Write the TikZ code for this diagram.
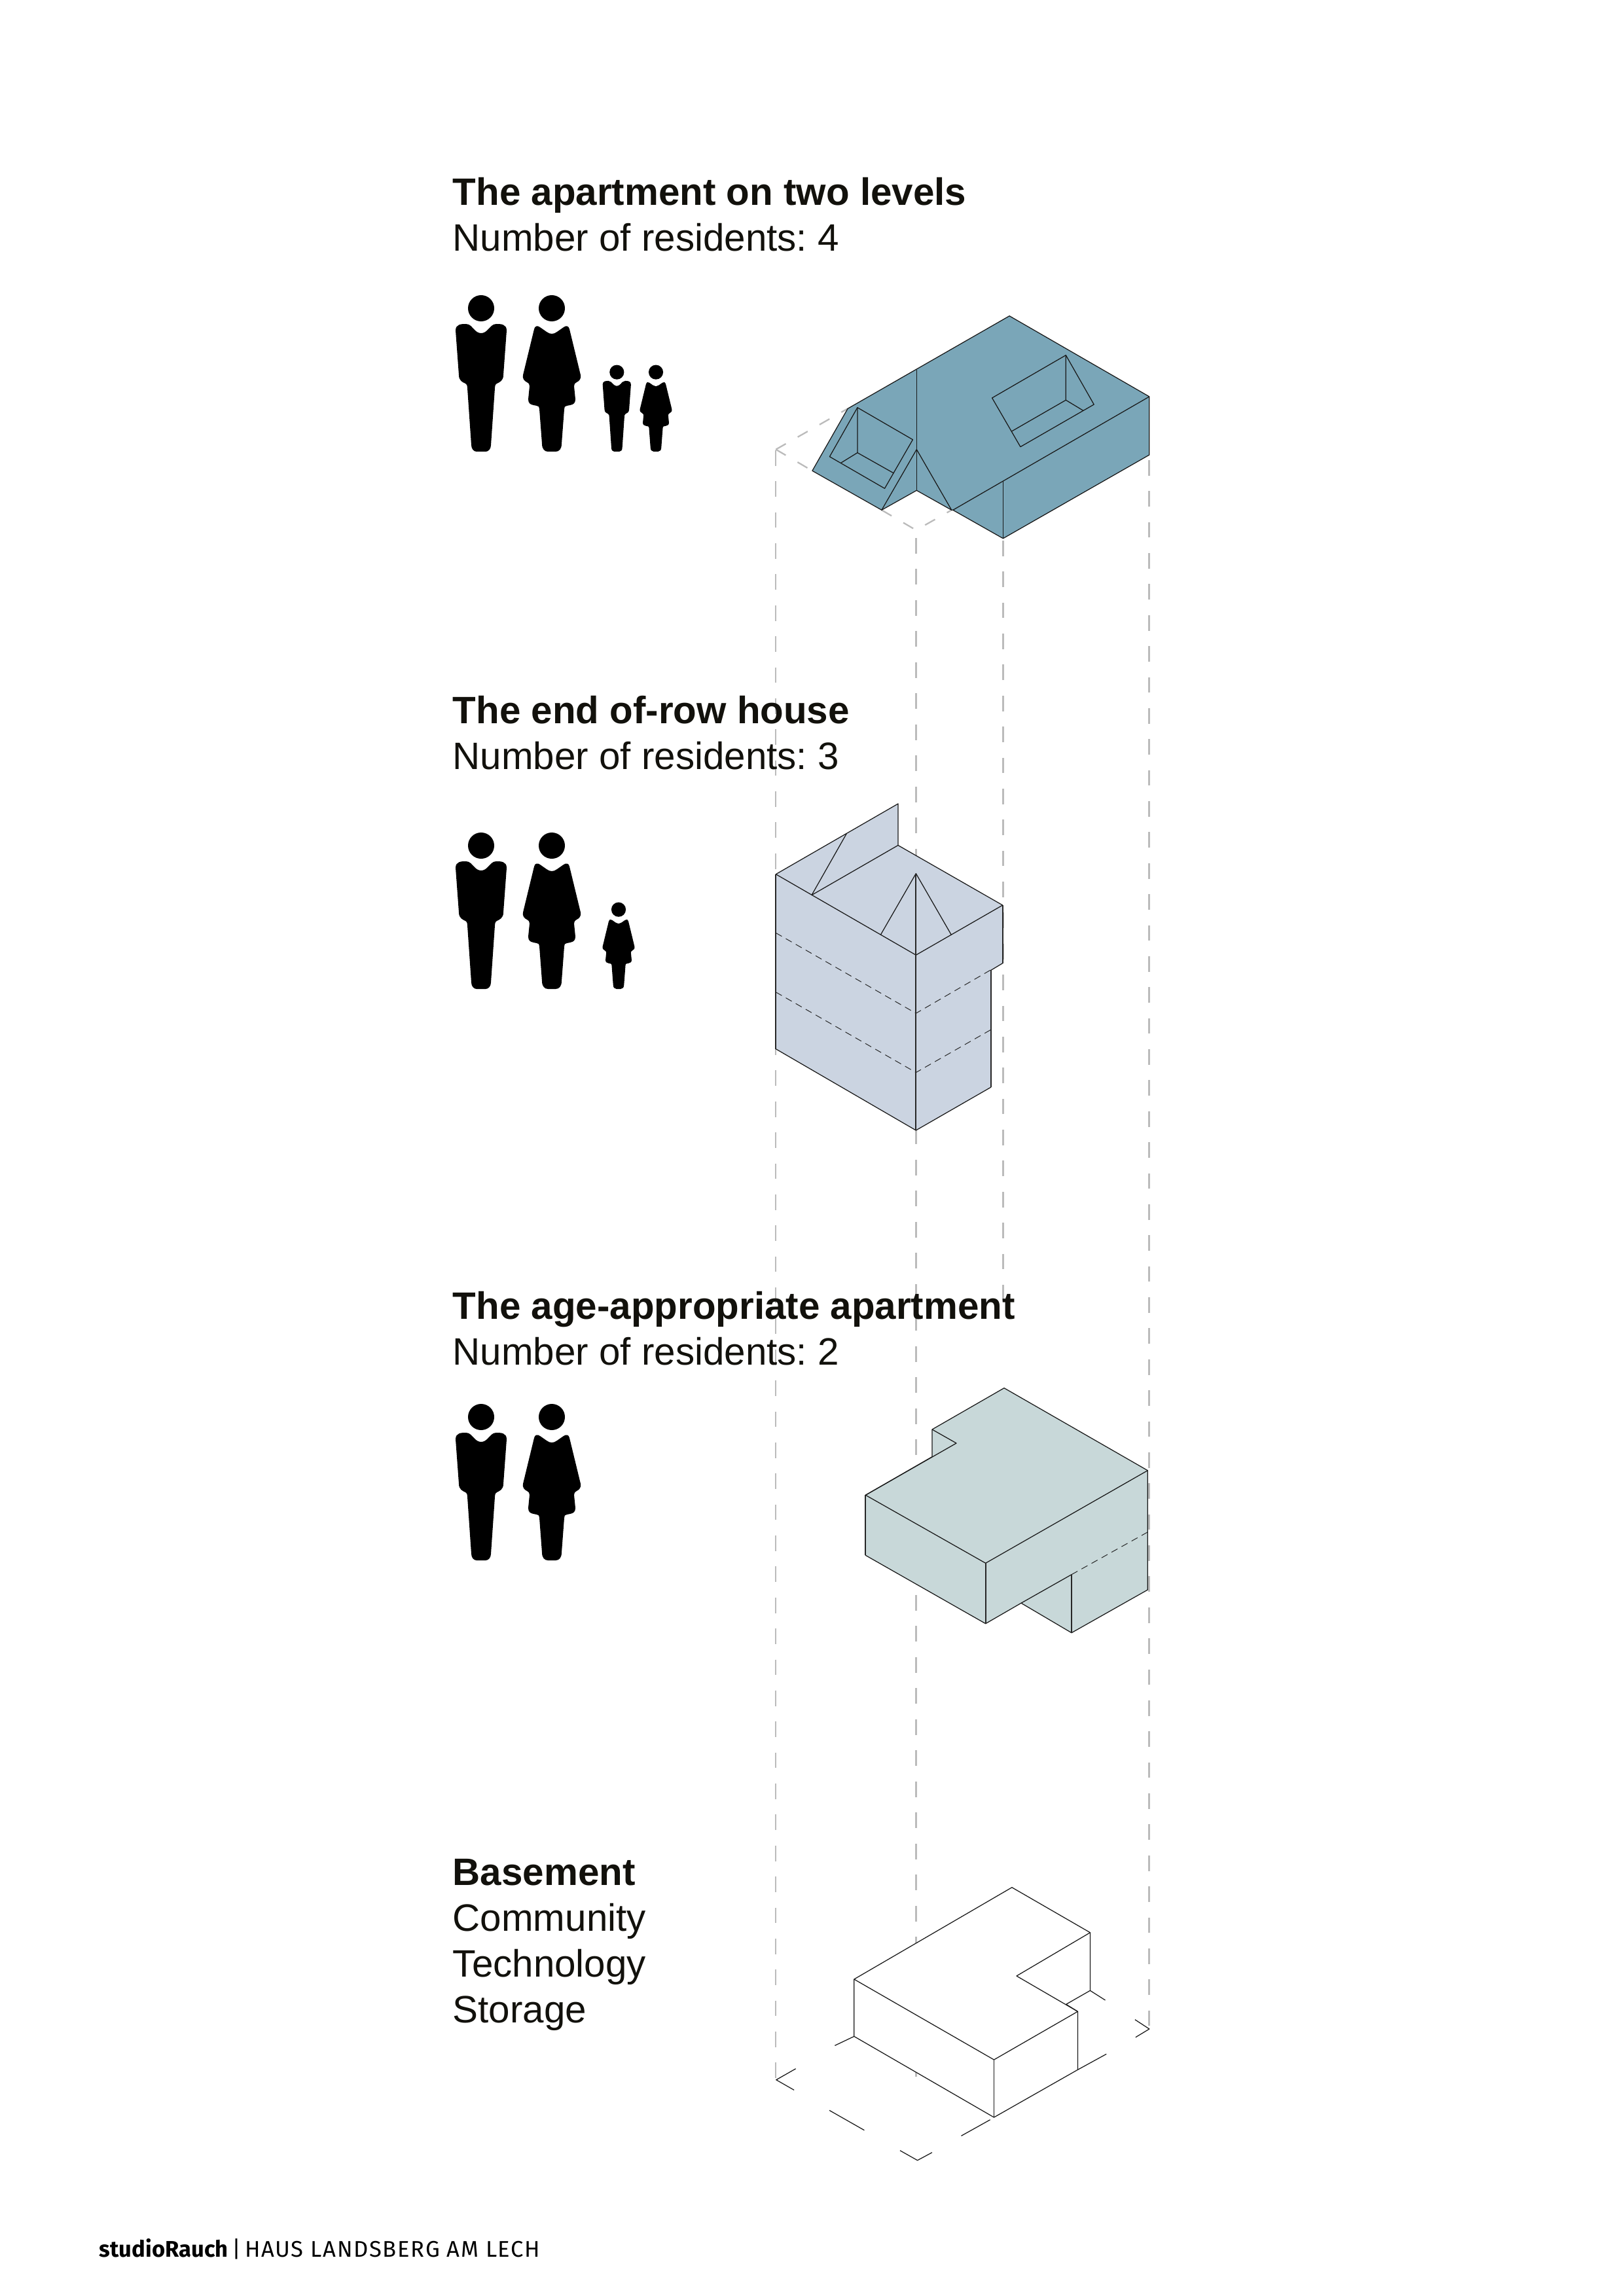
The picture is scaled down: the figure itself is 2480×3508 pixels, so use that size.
\documentclass[tikz,border=0pt]{standalone}
\usepackage{fontspec}
\setmainfont{Liberation Sans}
\newfontfamily\footfont{Fira Sans}
\newfontfamily\footspaced[LetterSpace=4.9]{Fira Sans}
\usetikzlibrary{positioning}
\frenchspacing
\definecolor{roofblue}{HTML}{7AA6B8}
\definecolor{rowblue}{HTML}{CBD4E1}
\definecolor{agegreen}{HTML}{C8D8D9}
\definecolor{ink}{HTML}{12110C}
\definecolor{gridgray}{HTML}{BBBBBB}
\tikzstyle{heading}=[anchor=base west, inner sep=0, text=ink, font=\fontsize{14}{17}\selectfont\bfseries]
\tikzstyle{body}=[anchor=base west, inner sep=0, text=ink, font=\fontsize{14}{17}\selectfont]
\tikzstyle{edge}=[draw=black!90, line width=0.3pt, line join=round]
\tikzstyle{heavy}=[draw=black!85, line width=0.55pt]
\tikzstyle{floorline}=[draw=black!85, line width=0.24pt, dash pattern=on 2.5pt off 1.7pt]
\tikzstyle{drop}=[draw=gridgray, line width=0.55pt, dash pattern=on 5.69pt off 5.68pt]
\tikzstyle{plan}=[draw=gridgray, line width=0.55pt, dash pattern=on 4.2pt off 5pt]
\tikzset{
	manfig/.pic={
		\fill[black] (0,-219) circle (20);
		\fill[black] (0,-181) .. controls (4,-181) and (7,-183) .. (10,-186)
			.. controls (14,-190) and (17,-195) .. (23,-195)
			.. controls (30,-195) and (39,-195) .. (39,-185)
			-- (34,-117) .. controls (34,-108) and (28,-106) .. (24,-104)
			.. controls (21,-102) and (21,-99) .. (21,-97)
			-- (15,-10) .. controls (15,-4) and (11,0) .. (7,0)
			-- (-7,0) .. controls (-11,0) and (-15,-4) .. (-15,-10)
			-- (-21,-97) .. controls (-21,-99) and (-21,-102) .. (-24,-104)
			.. controls (-28,-106) and (-34,-108) .. (-34,-117)
			-- (-39,-185) .. controls (-39,-195) and (-30,-195) .. (-23,-195)
			.. controls (-17,-195) and (-14,-190) .. (-10,-186)
			.. controls (-7,-183) and (-4,-181) .. (0,-181) -- cycle;
	},
	womanfig/.pic={
		\fill[black] (0,-219) circle (20);
		\fill[black] (0,-180) .. controls (3,-180) and (5,-181) .. (8,-183)
			-- (18,-190) .. controls (22,-193) and (26,-192) .. (27,-187)
			-- (44,-117) .. controls (45,-111) and (42,-108) .. (38,-106)
			.. controls (35,-104) and (34,-103) .. (34,-100)
			-- (36,-80) .. controls (36,-74) and (33,-72) .. (28,-71)
			-- (23,-70) .. controls (20,-70) and (19,-68) .. (19,-65)
			-- (15,-12) .. controls (15,-4) and (11,0) .. (6,0)
			-- (-6,0) .. controls (-11,0) and (-15,-4) .. (-15,-12)
			-- (-19,-65) .. controls (-19,-68) and (-20,-70) .. (-23,-70)
			-- (-28,-71) .. controls (-33,-72) and (-36,-74) .. (-36,-80)
			-- (-34,-100) .. controls (-34,-103) and (-35,-104) .. (-38,-106)
			.. controls (-42,-108) and (-45,-111) .. (-44,-117)
			-- (-27,-187) .. controls (-26,-192) and (-22,-193) .. (-18,-190)
			-- (-8,-183) .. controls (-5,-181) and (-3,-180) .. (0,-180) -- cycle;
	}
}
\begin{document}
\begin{tikzpicture}[x=0.24pt, y=-0.24pt]
	\useasboundingbox (0,0) rectangle (2480,3508);

	% drop lines and ground plan
	\draw[drop] (1185.3,688) -- (1185.3,3177.7);
	\draw[drop, dash pattern=on 5.7pt off 5.7pt] (1399.5,822) -- (1399.5,3173);
	\draw[drop] (1532.5,826) -- (1532.5,1987);
	\draw[drop] (1755.6,703) -- (1755.6,3100);
	\draw[plan] (1185.3,686.7) -- (1295.1,624.3);
	\draw[plan] (1185.3,686.7) -- (1240.9,719.3);
	\draw[plan] (1346.9,779.3) -- (1399.5,810) -- (1453.7,779.3);

	% two levels
	\path[fill=roofblue, edge] (1542.1,482.7) -- (1755.8,606) -- (1755.8,695) -- (1532.4,822.7)
		-- (1455.8,779.3) -- (1453.7,779.3) -- (1400.3,749.3) -- (1346.9,779.3)
		-- (1240.9,719.3) -- (1295.1,624.3) -- cycle;
	\draw[edge] (1755.8,606) -- (1455.8,779.3);
	\draw[edge] (1400.3,565) -- (1400.3,749.3);
	\draw[edge] (1346.9,779.3) -- (1400.3,686.7) -- (1453.7,779.3);
	\draw[edge] (1532.4,735) -- (1532.4,822.7);
	\draw[edge] (1309.9,622.7) -- (1394.4,671.7) -- (1351.5,746.3) -- (1267.4,697.7) -- cycle;
	\draw[edge] (1309.9,622.7) -- (1309.9,691.7) -- (1284.6,707.3);
	\draw[edge] (1309.9,691.7) -- (1365.4,723);
	\draw[edge] (1628.3,542.7) -- (1515.6,608) -- (1558.9,682.7) -- (1671.2,618) -- cycle;
	\draw[edge] (1628.3,542.7) -- (1628.3,611.3) -- (1545.5,659);
	\draw[edge] (1628.3,611.3) -- (1654.8,627.3);

	% end of row
	\path[fill=rowblue, edge] (1185.3,1335.7) -- (1372,1228) -- (1372,1291.5) -- (1531.7,1383)
		-- (1531.7,1471.7) -- (1513.7,1482.5) -- (1513.7,1661.2) -- (1399.3,1727)
		-- (1185.3,1602.7) -- cycle;
	\draw[edge] (1185.3,1335.7) -- (1399.3,1459.2) -- (1531.7,1383);
	\draw[edge] (1240,1367.6) -- (1372,1291.5);
	\draw[edge] (1240,1367.6) -- (1293.3,1273.6);
	\draw[edge] (1345.3,1428.3) -- (1399.3,1334.6) -- (1453.3,1428.3);
	\draw[heavy] (1399.3,1334.6) -- (1399.3,1727);
	\draw[heavy] (1185.3,1335.7) -- (1185.3,1602.7);
	\draw[heavy] (1531.7,1383) -- (1531.7,1471.7);
	\draw[heavy] (1513.7,1482.5) -- (1513.7,1661.2);
	\draw[floorline] (1185.3,1425.4) -- (1399.3,1548.2) -- (1513.7,1481.8);
	\draw[floorline] (1185.3,1515.9) -- (1399.3,1638.6) -- (1513.7,1573.3);

	% age appropriate
	\path[fill=agegreen, edge] (1534,2120.7) -- (1753.3,2246.7) -- (1753.3,2429) -- (1637,2494.7)
		-- (1560,2449.3) -- (1505.7,2480.7) -- (1322.3,2376.3) -- (1322.3,2284.3)
		-- (1424,2225.7) -- (1424,2184) -- cycle;
	\draw[edge] (1424,2184) -- (1461,2205) -- (1322.3,2284.3) -- (1505.7,2388.3) -- (1753.3,2246.7);
	\draw[edge] (1560,2449.3) -- (1637,2405.7);
	\draw[heavy] (1322.3,2284.3) -- (1322.3,2376.3);
	\draw[heavy] (1505.7,2388.3) -- (1505.7,2480.7);
	\draw[heavy] (1637,2405.7) -- (1637,2494.7);
	\draw[floorline] (1637,2405.7) -- (1756,2339.3);

	% basement
	\path[fill=white, edge] (1545.9,2883.7) -- (1665.4,2952.7) -- (1665.4,3041.3) -- (1628.7,3062.3)
		-- (1646.4,3073.3) -- (1646.4,3162.3) -- (1518.5,3235) -- (1304.8,3111.3)
		-- (1304.8,3024) -- cycle;
	\draw[edge] (1665.4,2952.7) -- (1553,3019) -- (1646.4,3073.3) -- (1518.5,3147) -- (1304.8,3024);
	\draw[edge] (1518.5,3147) -- (1518.5,3235);
	\draw[edge] (1665.4,3041.3) -- (1688.5,3056);
	\draw[edge] (1733.9,3085.7) -- (1755.8,3100) -- (1734.8,3112.7);
	\draw[edge] (1646.4,3162.3) -- (1690.2,3138.3);
	\draw[edge] (1304.8,3111.3) -- (1275.4,3125.3);
	\draw[edge] (1215.6,3160.7) -- (1185.8,3177.7) -- (1213.1,3193.3);
	\draw[edge] (1267,3224.3) -- (1320.4,3254.7);
	\draw[edge] (1375,3285.7) -- (1401.6,3300.7) -- (1423.9,3288.7);
	\draw[edge] (1512.6,3238.7) -- (1468.5,3263.3);

	% people
	\pic at (735,690) {manfig};
	\pic at (843,690) {womanfig};
	\pic[scale=0.554] at (942.3,690) {manfig};
	\pic[scale=0.554] at (1002,690) {womanfig};
	\pic at (735,1511) {manfig};
	\pic at (843,1511) {womanfig};
	\pic[scale=0.554] at (945,1511) {womanfig};
	\pic at (735,2384) {manfig};
	\pic at (843,2384) {womanfig};

	% texts
	\node[heading] (levelsTitle) at (691,313.3) {The apartment on two levels};
	\node[body] (levelsCount) at (691,383.3) {Number of residents: 4};
	\node[heading] (rowTitle) at (691,1105.3) {The end of-row house};
	\node[body] (rowCount) at (691,1175) {Number of residents: 3};
	\node[heading] (ageTitle) at (691,2015) {The age-appropriate apartment};
	\node[body] (ageCount) at (691,2085) {Number of residents: 2};
	\node[heading] (baseTitle) at (691,2880) {Basement};
	\node[body] (baseCommunity) at (691,2950) {Community};
	\node[body] (baseTechnology) at (691,3020) {Technology};
	\node[body] (baseStorage) at (691,3090) {Storage};
	\node[anchor=base west, inner sep=0, font=\fontsize{8.3}{10}\selectfont] (credit) at (151,3448)
		{{\footfont\bfseries studioRauch}\hspace{1.3pt}{\footfont|}\hspace{1.5pt}{\footspaced HAUS LANDSBERG AM LECH}};
\end{tikzpicture}
\end{document}
